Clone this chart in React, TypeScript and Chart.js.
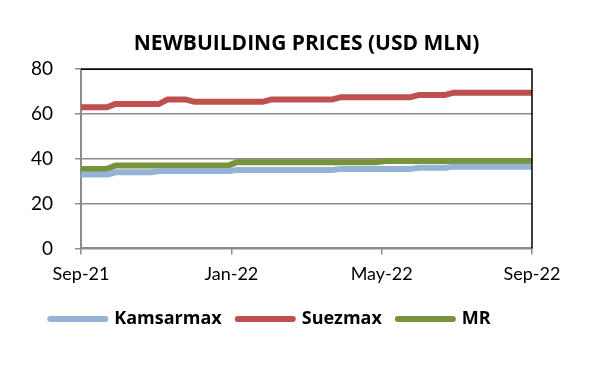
import React, { useEffect, useRef } from "react";
import { Chart, registerables } from "chart.js";

Chart.register(...registerables);

const TITLE = "NEWBUILDING PRICES (USD MLN)";
const X_LABELS = ["Sep-21", "Jan-22", "May-22", "Sep-22"];
const WEEKS = 52;
const Y_MIN = 0;
const Y_MAX = 80;
const Y_STEP = 20;

// weekly values, Sep-21 .. Sep-22 (53 points)
const kamsarmax = [
  33, 33, 33, 33, 34, 34, 34, 34, 34, 34.5, 34.5, 34.5, 34.5, 34.5, 34.5, 34.5, 34.5, 34.5,
  35, 35, 35, 35, 35, 35, 35, 35, 35, 35, 35, 35, 35.5, 35.5, 35.5, 35.5, 35.5, 35.5, 35.5,
  35.5, 35.5, 36, 36, 36, 36, 36.5, 36.5, 36.5, 36.5, 36.5, 36.5, 36.5, 36.5, 36.5, 36.5,
];
const suezmax = [
  63, 63, 63, 63, 64.5, 64.5, 64.5, 64.5, 64.5, 64.5, 66.5, 66.5, 66.5, 65.5, 65.5, 65.5, 65.5,
  65.5, 65.5, 65.5, 65.5, 65.5, 66.5, 66.5, 66.5, 66.5, 66.5, 66.5, 66.5, 66.5, 67.5, 67.5,
  67.5, 67.5, 67.5, 67.5, 67.5, 67.5, 67.5, 68.5, 68.5, 68.5, 68.5, 69.5, 69.5, 69.5, 69.5,
  69.5, 69.5, 69.5, 69.5, 69.5, 69.5,
];
const mr = [
  35.5, 35.5, 35.5, 35.5, 37, 37, 37, 37, 37, 37, 37, 37, 37, 37, 37, 37, 37, 37, 38.5, 38.5,
  38.5, 38.5, 38.5, 38.5, 38.5, 38.5, 38.5, 38.5, 38.5, 38.5, 38.5, 38.5, 38.5, 38.5, 38.5,
  39, 39, 39, 39, 39, 39, 39, 39, 39, 39, 39, 39, 39, 39, 39, 39, 39, 39,
];

const SERIES = [
  { label: "Kamsarmax", values: kamsarmax, color: "#95B3D7" },
  { label: "Suezmax", values: suezmax, color: "#C0504D" },
  { label: "MR", values: mr, color: "#77933C" },
];

const FONT = "Lato, 'Open Sans', sans-serif";
const BOLD_FONT = "'Open Sans', Lato, sans-serif";

const frame = {
  id: "frame",
  afterDatasetsDraw(chart: any) {
    const { ctx, chartArea } = chart;
    ctx.save();
    ctx.strokeStyle = "#000";
    ctx.lineWidth = 1.5;
    ctx.beginPath();
    ctx.moveTo(chartArea.left, chartArea.top);
    ctx.lineTo(chartArea.right, chartArea.top);
    ctx.lineTo(chartArea.right, chartArea.bottom);
    ctx.stroke();
    ctx.restore();
  },
};

export default function App() {
  const ref = useRef<HTMLCanvasElement>(null);
  useEffect(() => {
    document.body.style.margin = "0";
    const canvas = ref.current;
    if (!canvas) return;
    const chart = new Chart(canvas, {
      type: "line",
      data: {
        datasets: SERIES.map((s) => ({
          label: s.label,
          data: s.values.map((v, i) => ({ x: i, y: v })),
          borderColor: s.color,
          backgroundColor: s.color,
          borderWidth: 6,
          pointRadius: 0,
          tension: 0,
          borderJoinStyle: "round" as const,
        })),
      },
      options: {
        animation: false,
        responsive: false,
        devicePixelRatio: 1,
        layout: { padding: { left: 9, right: 63, top: 27, bottom: 29 } },
        plugins: {
          title: {
            display: true,
            fullSize: false,
            text: TITLE,
            color: "#000",
            font: { family: BOLD_FONT, size: 21, weight: "bold" },
            padding: { top: 4, bottom: 13 },
          },
          legend: {
            position: "bottom",
            labels: {
              color: "#000",
              font: { family: BOLD_FONT, size: 18, weight: "bold" },
              usePointStyle: true,
              pointStyleWidth: 55,
              padding: 16,
              generateLabels: (c: any) =>
                c.data.datasets.map((d: any, i: number) => ({
                  text: d.label,
                  fillStyle: d.borderColor,
                  strokeStyle: d.borderColor,
                  lineWidth: 6,
                  lineCap: "round",
                  pointStyle: "line",
                  hidden: false,
                  datasetIndex: i,
                  fontColor: "#000",
                })),
            },
          },
          tooltip: { enabled: false },
        },
        scales: {
          x: {
            type: "linear",
            min: 0,
            max: WEEKS,
            afterBuildTicks: (scale: any) => {
              scale.ticks = X_LABELS.map((_, i) => ({ value: (WEEKS * i) / (X_LABELS.length - 1) }));
            },
            ticks: {
              color: "#000",
              font: { family: FONT, size: 18 },
              padding: 9,
              maxRotation: 0,
              autoSkip: false,
              callback: (_v: any, i: number) => X_LABELS[i],
            },
            grid: {
              drawOnChartArea: false,
              drawTicks: true,
              tickLength: 6,
              color: "#8c8c8c",
              lineWidth: 1.5,
            },
            border: { color: "#8c8c8c", width: 2 },
          },
          y: {
            min: Y_MIN,
            max: Y_MAX,
            ticks: {
              stepSize: Y_STEP,
              color: "#000",
              font: { family: FONT, size: 19 },
              padding: 22,
            },
            grid: {
              color: "#8c8c8c",
              lineWidth: 1.5,
              tickLength: 6,
            },
            border: { color: "#8c8c8c", width: 2 },
          },
        },
      },
      plugins: [frame],
    });
    return () => chart.destroy();
  }, []);
  return (
    <div style={{ width: 595, height: 367, background: "#fff" }}>
      <canvas ref={ref} width={595} height={367} style={{ display: "block" }} />
    </div>
  );
}
